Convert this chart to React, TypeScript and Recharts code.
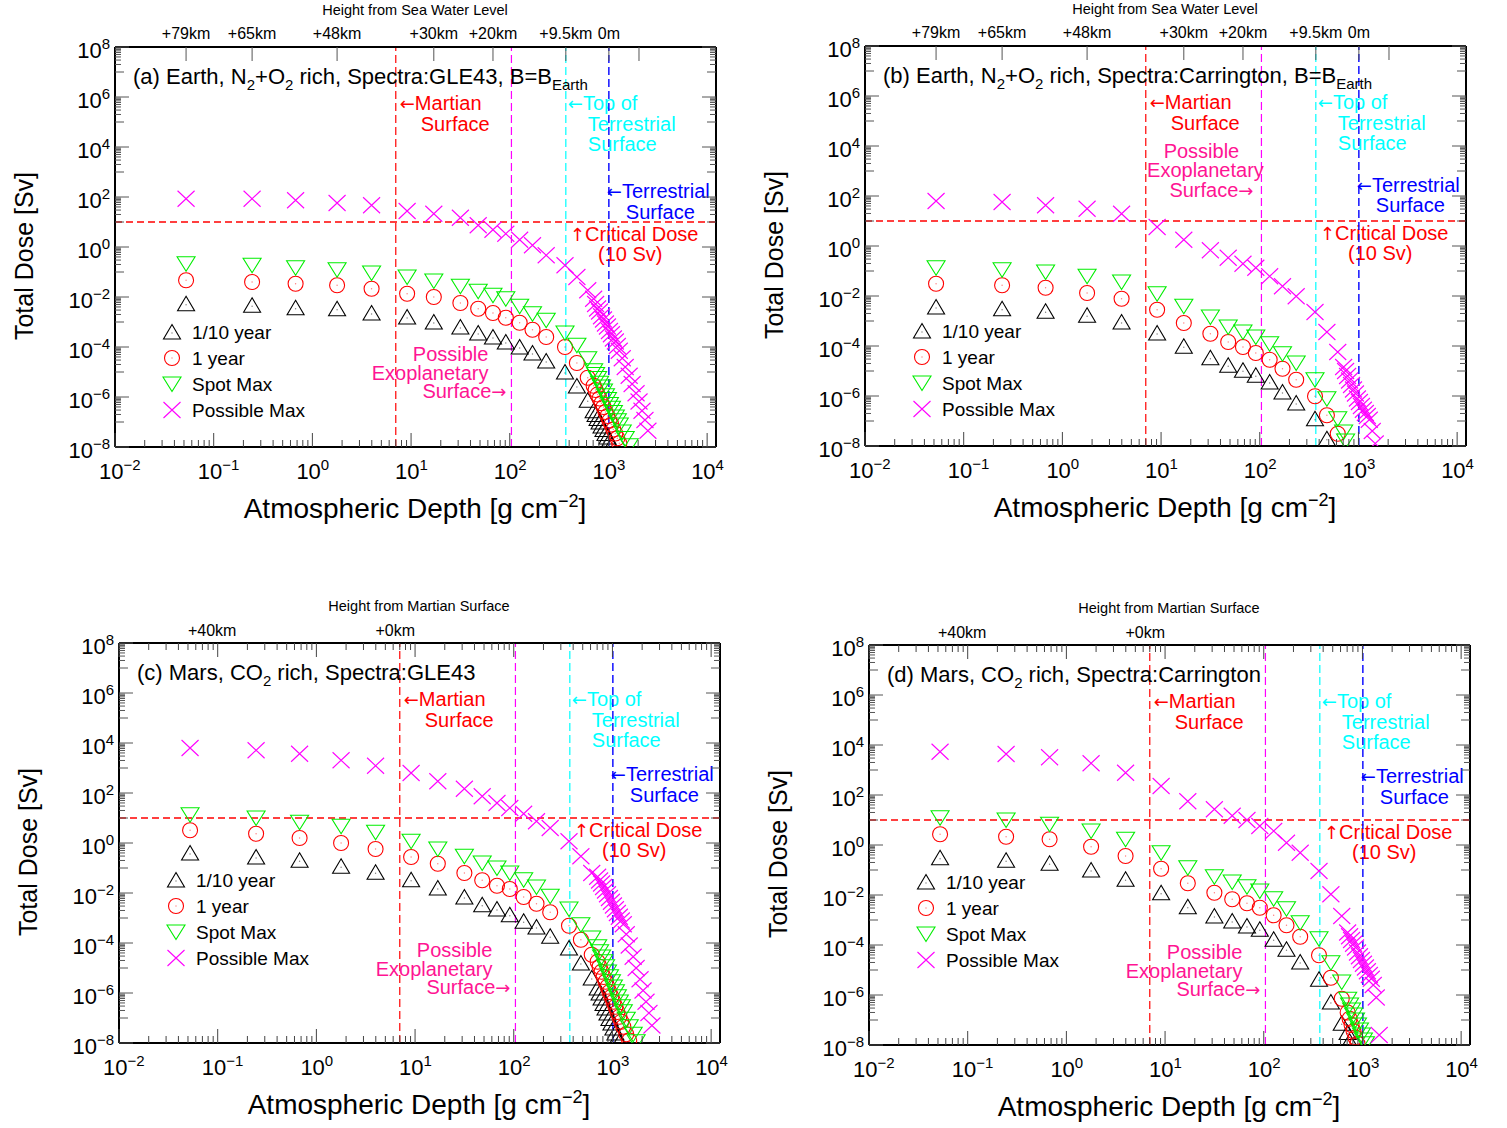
import React from 'react';
import { ScatterChart, Scatter, XAxis, YAxis, ReferenceLine, Legend } from 'recharts';

const FONT = '"Liberation Sans", Arial, Helvetica, sans-serif';
const ARROW_FONT = '"DejaVu Sans", sans-serif';

// atmospheric depth of each simulated layer [g cm^-2]
const depth = [
  0.0525, 0.245, 0.676, 1.78, 3.98, 9.12, 17.0, 31.6, 47.9, 67.6, 91.2, 126, 170, 234, 363, 479, 617,
  708, 741, 776, 813, 851, 891, 933, 977, 1023, 1072, 1122, 1175, 1230, 1288,
  1380, 1479, 1622, 1738, 1905, 2042, 2188, 2344, 2512,
];

// log10 of total dose [Sv] per layer, null where the dose falls below 1e-8 Sv
// (a) Earth atmosphere, GLE43 spectrum
const earthGleTenth = [
  -2.27, -2.33, -2.43, -2.47, -2.64, -2.8, -3.0, -3.2, -3.44, -3.6, -3.8, -4.0, -4.24, -4.56, -5.0, -5.56, -6.13,
  -6.55, -6.7, -6.86, -7.0, -7.16, -7.3, -7.46, -7.6, -7.76, -7.92, null, null, null, null,
  null, null, null, null, null, null, null, null, null,
];
const earthGleYear = [
  -1.33, -1.4, -1.47, -1.53, -1.67, -1.87, -2.0, -2.24, -2.47, -2.64, -2.83, -3.03, -3.31, -3.6, -4.0, -4.64, -5.23,
  -5.55, -5.72, -5.9, -6.06, -6.25, -6.4, -6.6, -6.76, -6.95, -7.1, -7.3, -7.46, -7.65, -7.85,
  null, null, null, null, null, null, null, null, null,
];
const earthGleSpot = [
  -0.67, -0.73, -0.83, -0.91, -1.04, -1.2, -1.36, -1.57, -1.77, -1.93, -2.07, -2.37, -2.67, -2.93, -3.44, -3.93, -4.47,
  -4.95, -5.1, -5.26, -5.45, -5.6, -5.76, -5.95, -6.1, -6.3, -6.45, -6.62, -6.8, -6.95, -7.12,
  -7.4, -7.66, -7.95, null, null, null, null, null, null,
];
const earthGleMax = [
  1.93, 1.93, 1.87, 1.76, 1.67, 1.44, 1.33, 1.17, 0.87, 0.69, 0.53, 0.29, 0.07, -0.33, -0.73, -1.2, -1.73,
  -2.07, -2.28, -2.46, -2.58, -2.77, -2.9, -3.06, -3.18, -3.36, -3.49, -3.66, -3.78, -3.96, -4.15,
  -4.45, -4.8, -5.15, -5.48, -5.85, -6.18, -6.55, -6.92, -7.35,
];

// (b) Earth atmosphere, Carrington spectrum
const earthCarTenth = [
  -2.44, -2.51, -2.61, -2.77, -3.04, -3.48, -4.01, -4.47, -4.77, -4.97, -5.17, -5.44, -5.84, -6.28, -6.91, -7.71, null,
  null, null, null, null, null, null, null, null, null, null, null, null, null, null,
  null, null, null, null, null, null, null, null, null,
];
const earthCarYear = [
  -1.51, -1.57, -1.67, -1.88, -2.11, -2.55, -3.08, -3.51, -3.84, -4.04, -4.28, -4.55, -4.91, -5.35, -6.01, -6.77, -7.51,
  null, null, null, null, null, null, null, null, null, null, null, null, null, null,
  null, null, null, null, null, null, null, null, null,
];
const earthCarSpot = [
  -0.87, -0.95, -1.04, -1.21, -1.44, -1.91, -2.41, -2.84, -3.24, -3.44, -3.64, -3.91, -4.31, -4.68, -5.35, -6.11, -6.91,
  -7.44, -7.8, null, null, null, null, null, null, null, null, null, null, null, null,
  null, null, null, null, null, null, null, null, null,
];
const earthCarMax = [
  1.8, 1.76, 1.63, 1.49, 1.29, 0.76, 0.25, -0.17, -0.47, -0.71, -0.87, -1.21, -1.61, -2.01, -2.64, -3.44, -4.24,
  -4.84, -5.0, -5.2, -5.38, -5.56, -5.74, -5.9, -6.1, -6.24, -6.4, -6.55, -6.68, -6.8, -6.95,
  -7.4, -7.9, null, null, null, null, null, null, null,
];

// (c) Mars atmosphere, GLE43 spectrum
const marsGleTenth = [
  -0.4, -0.56, -0.69, -0.93, -1.17, -1.47, -1.8, -2.16, -2.47, -2.64, -2.87, -3.13, -3.36, -3.73, -4.2, -4.8, -5.4,
  -5.8, -6.0, -6.2, -6.42, -6.6, -6.8, -7.02, -7.2, -7.4, -7.6, -7.8, -7.95, null, null,
  null, null, null, null, null, null, null, null, null,
];
const marsGleYear = [
  0.51, 0.37, 0.2, 0.0, -0.24, -0.56, -0.83, -1.2, -1.49, -1.71, -1.84, -2.16, -2.43, -2.77, -3.31, -3.87, -4.47,
  -4.75, -4.95, -5.15, -5.36, -5.55, -5.75, -5.96, -6.15, -6.35, -6.55, -6.76, -6.95, -7.15, -7.35,
  -7.65, -7.9, null, null, null, null, null, null, null,
];
const marsGleSpot = [
  1.13, 1.0, 0.83, 0.67, 0.43, 0.07, -0.24, -0.53, -0.8, -1.0, -1.2, -1.47, -1.76, -2.13, -2.64, -3.27, -3.8,
  -4.15, -4.35, -4.56, -4.75, -4.95, -5.16, -5.35, -5.55, -5.76, -5.95, -6.15, -6.36, -6.55, -6.75,
  -7.05, -7.35, -7.65, -7.95, null, null, null, null, null,
];
const marsGleMax = [
  3.8, 3.71, 3.57, 3.31, 3.09, 2.8, 2.47, 2.17, 1.87, 1.6, 1.4, 1.17, 0.87, 0.6, 0.07, -0.53, -1.2,
  -1.35, -1.5, -1.62, -1.76, -1.9, -2.05, -2.2, -2.35, -2.5, -2.65, -2.8, -2.95, -3.1, -3.25,
  -3.65, -4.1, -4.55, -5.0, -5.45, -5.9, -6.35, -6.8, -7.3,
];

// (d) Mars atmosphere, Carrington spectrum
const marsCarTenth = [
  -0.51, -0.61, -0.73, -1.0, -1.37, -1.91, -2.47, -2.84, -3.04, -3.24, -3.37, -3.77, -4.17, -4.68, -5.37, -6.28, -7.13,
  -7.5, -7.85, null, null, null, null, null, null, null, null, null, null, null, null,
  null, null, null, null, null, null, null, null, null,
];
const marsCarYear = [
  0.43, 0.33, 0.23, -0.07, -0.44, -0.95, -1.53, -1.91, -2.17, -2.33, -2.51, -2.81, -3.21, -3.67, -4.41, -5.31, -6.15,
  -6.7, -6.95, -7.2, -7.45, -7.7, -7.95, null, null, null, null, null, null, null, null,
  null, null, null, null, null, null, null, null, null,
];
const marsCarSpot = [
  1.09, 1.0, 0.83, 0.56, 0.23, -0.31, -0.91, -1.27, -1.48, -1.67, -1.84, -2.15, -2.55, -3.11, -3.75, -4.71, -5.48,
  -6.17, -6.4, -6.6, -6.8, -7.0, -7.2, -7.4, -7.6, -7.8, -7.95, null, null, null, null,
  null, null, null, null, null, null, null, null, null,
];
const marsCarMax = [
  3.73, 3.64, 3.51, 3.27, 2.89, 2.36, 1.75, 1.43, 1.17, 1.0, 0.76, 0.56, 0.09, -0.31, -1.04, -1.97, -2.84,
  -3.5, -3.65, -3.8, -3.95, -4.1, -4.3, -4.45, -4.6, -4.75, -4.9, -5.05, -5.2, -5.35, -5.6,
  -6.1, -7.6, null, null, null, null, null, null, null,
];

// axis decades and the height scale on the upper axis
const xDecades = [-2, -1, 0, 1, 2, 3, 4];
const yDecades = [-8, -7, -6, -5, -4, -3, -2, -1, 0, 1, 2, 3, 4, 5, 6, 7, 8];
const earthHeightDepths = [0.0525, 0.245, 1.78, 17, 67.6, 370, 1010, 2040];
const earthHeightLabels = ['+79km', '+65km', '+48km', '+30km', '+20km', '+9.5km', '0m', ''];
const marsHeightDepths = [0.088, 6.3];
const marsHeightLabels = ['+40km', '+0km'];

// reference levels
const criticalDose = 10;
const martianSurface = 7;
const exoplanetSurface = 104;
const terrestrialTop = 370;
const terrestrialSurface = 1010;

const X_MIN = 0.01;
const X_MAX = 12300;
const Y_MIN = 1e-8;
const Y_MAX = 1e8;

// chart geometry (plot frame in chart coordinates)
const CW = 750;
const CH = 530;
const L = 115;
const R = 716;
const T = 47;
const B = 447;

const seriesMeta = [
  { key: 'tenth', name: '1/10 year', kind: 'up' },
  { key: 'year', name: '1 year', kind: 'circle' },
  { key: 'spot', name: 'Spot Max', kind: 'down' },
  { key: 'max', name: 'Possible Max', kind: 'x' },
];

const xTicks: number[] = [];
xDecades.forEach((e) => {
  for (let k = 1; k <= 9; k++) {
    const v = k * Math.pow(10, e);
    if (v <= X_MAX) xTicks.push(v);
  }
});

const yTicks: number[] = [];
yDecades.forEach((e) => {
  yTicks.push(Math.pow(10, e));
  // minor ticks only in the decade just below each labelled power
  if ((e + 1) % 2 === 0 && e < 8) {
    for (let k = 2; k <= 9; k++) yTicks.push(k * Math.pow(10, e));
  }
});

const marsTopTicks = [...xTicks, ...marsHeightDepths];

function buildPoints(logs: (number | null)[]) {
  const out: { x: number; y: number }[] = [];
  logs.forEach((v, i) => {
    if (v !== null) out.push({ x: depth[i], y: Math.pow(10, v) });
  });
  return out;
}

const expText = (e: number) => (e < 0 ? `\u2212${-e}` : `${e}`);
const isDecade = (v: number) => {
  const lg = Math.log10(v);
  return Math.abs(lg - Math.round(lg)) < 1e-6;
};

const Arrow = ({ ch }: { ch: string }) => (
  <tspan fontFamily={ARROW_FONT} fontSize={18}>
    {ch}
  </tspan>
);

function Marker({ kind, cx, cy }: { kind: string; cx: number; cy: number }) {
  if (kind === 'up') {
    return (
      <g>
        <path d={`M${cx},${cy - 7.5}L${cx + 8.5},${cy + 7}L${cx - 8.5},${cy + 7}Z`} fill="none" stroke="#000" strokeWidth={1.1} />
        <circle cx={cx} cy={cy + 1} r={0.7} fill="#000" opacity={0.5} />
      </g>
    );
  }
  if (kind === 'down') {
    return (
      <path d={`M${cx},${cy + 7.5}L${cx + 9},${cy - 7}L${cx - 9},${cy - 7}Z`} fill="none" stroke="#00ee00" strokeWidth={1.1} />
    );
  }
  if (kind === 'circle') {
    return (
      <g>
        <circle cx={cx} cy={cy} r={7.5} fill="none" stroke="#ff0000" strokeWidth={1.1} />
        <circle cx={cx} cy={cy} r={0.7} fill="#ff0000" opacity={0.5} />
      </g>
    );
  }
  return (
    <path
      d={`M${cx - 8.5},${cy - 8}L${cx + 8.5},${cy + 8}M${cx - 8.5},${cy + 8}L${cx + 8.5},${cy - 8}`}
      stroke="#ff00ff"
      strokeWidth={1.1}
      fill="none"
    />
  );
}

function BottomTick(p: any) {
  const v = p.payload.value;
  const x = p.x;
  const major = isDecade(v);
  const e = Math.round(Math.log10(v));
  return (
    <g>
      <line x1={x} x2={x} y1={B} y2={B - (major ? 14 : 7)} stroke="#444" strokeWidth={1} />
      {major && (
        <text x={x - 16} y={B + 32} fontSize={22} fontFamily={FONT} fill="#000">
          10
          <tspan dy={-9} fontSize={15}>
            {expText(e)}
          </tspan>
        </text>
      )}
    </g>
  );
}

function EarthTopTick(p: any) {
  const v = p.payload.value;
  const x = p.x;
  const label = earthHeightLabels[earthHeightDepths.indexOf(v)] ?? '';
  return (
    <g>
      <line x1={x} x2={x} y1={T} y2={T + 14} stroke="#555" strokeWidth={1} />
      {label && (
        <text x={x} y={T - 8} textAnchor="middle" fontSize={16} fontFamily={FONT} fill="#000">
          {label}
        </text>
      )}
    </g>
  );
}

function MarsTopTick(p: any) {
  const v = p.payload.value;
  const x = p.x;
  const li = marsHeightDepths.indexOf(v);
  if (li >= 0) {
    return (
      <text x={x} y={T - 7} textAnchor="middle" fontSize={16} fontFamily={FONT} fill="#000">
        {marsHeightLabels[li]}
      </text>
    );
  }
  const major = isDecade(v);
  return <line x1={x} x2={x} y1={T} y2={T + (major ? 14 : 7)} stroke="#444" strokeWidth={1} />;
}

function LeftTick(p: any) {
  const v = p.payload.value;
  const y = p.y;
  const major = isDecade(v);
  const e = Math.round(Math.log10(v));
  const labelled = major && e % 2 === 0;
  const len = major ? (labelled ? 14 : 9) : 6;
  return (
    <g>
      <line x1={L} x2={L + len} y1={y} y2={y} stroke="#555" strokeWidth={1} />
      {labelled && (
        <text x={L - 5} y={y + 11} textAnchor="end" fontSize={22} fontFamily={FONT} fill="#000">
          10
          <tspan dy={-9} fontSize={15}>
            {expText(e)}
          </tspan>
        </text>
      )}
    </g>
  );
}

function RightTick(p: any) {
  const v = p.payload.value;
  const y = p.y;
  const major = isDecade(v);
  const e = Math.round(Math.log10(v));
  const len = major ? (e % 2 === 0 ? 14 : 9) : 6;
  return <line x1={R} x2={R - len} y1={y} y2={y} stroke="#555" strokeWidth={1} />;
}

function RichText({ parts, x, y, size, subSize }: { parts: [string, boolean][]; x: number; y: number; size: number; subSize: number }) {
  let shift = 0;
  return (
    <text x={x} y={y} fontSize={size} fontFamily={FONT} fill="#000">
      {parts.map(([t, sub], i) => {
        const target = sub ? 6 : 0;
        const dy = target - shift;
        shift = target;
        return (
          <tspan key={i} dy={dy} fontSize={sub ? subSize : size}>
            {t}
          </tspan>
        );
      })}
    </text>
  );
}

type Panel = {
  left: number;
  top: number;
  planet: 'earth' | 'mars';
  title: [string, boolean][];
  series: Record<string, (number | null)[]>;
  legendTop: number;
  blueY: [number, number];
  possibleCentered: boolean;
};

const panels: Panel[] = [
  {
    left: 0,
    top: 0,
    planet: 'earth',
    title: [['(a) Earth, N', false], ['2', true], ['+O', false], ['2', true], [' rich, Spectra:GLE43, B=B', false], ['Earth', true]],
    series: { tenth: earthGleTenth, year: earthGleYear, spot: earthGleSpot, max: earthGleMax },
    legendTop: 332,
    blueY: [198, 219],
    possibleCentered: false,
  },
  {
    left: 750,
    top: -1,
    planet: 'earth',
    title: [['(b) Earth, N', false], ['2', true], ['+O', false], ['2', true], [' rich, Spectra:Carrington, B=B', false], ['Earth', true]],
    series: { tenth: earthCarTenth, year: earthCarYear, spot: earthCarSpot, max: earthCarMax },
    legendTop: 332,
    blueY: [193, 213],
    possibleCentered: true,
  },
  {
    left: 4,
    top: 596,
    planet: 'mars',
    title: [['(c) Mars, CO', false], ['2', true], [' rich, Spectra:GLE43', false]],
    series: { tenth: marsGleTenth, year: marsGleYear, spot: marsGleSpot, max: marsGleMax },
    legendTop: 284,
    blueY: [185, 206],
    possibleCentered: false,
  },
  {
    left: 754,
    top: 598,
    planet: 'mars',
    title: [['(d) Mars, CO', false], ['2', true], [' rich, Spectra:Carrington', false]],
    series: { tenth: marsCarTenth, year: marsCarYear, spot: marsCarSpot, max: marsCarMax },
    legendTop: 284,
    blueY: [185, 206],
    possibleCentered: false,
  },
];

const frameCorners = [
  { x: X_MIN, y: Y_MIN },
  { x: X_MAX, y: Y_MAX },
];

function LegendBox() {
  return (
    <svg width={170} height={106} style={{ display: 'block' }}>
      {seriesMeta.map((s, i) => (
        <g key={s.key}>
          <Marker kind={s.kind} cx={12} cy={13 + 26 * i} />
          <text x={32} y={20 + 26 * i} fontSize={19} fontFamily={FONT} fill="#000">
            {s.name}
          </text>
        </g>
      ))}
    </svg>
  );
}

function DosePanel({ panel }: { panel: Panel }) {
  const earth = panel.planet === 'earth';
  const dash = '8 4';
  return (
    <div style={{ position: 'absolute', left: panel.left, top: panel.top, width: CW, height: CH }}>
      <ScatterChart width={CW} height={CH} margin={{ top: T - 20, right: CW - R - 10, bottom: CH - B - 40, left: L - 60 }}>
        <XAxis
          xAxisId="b"
          dataKey="x"
          type="number"
          scale="log"
          domain={[X_MIN, X_MAX]}
          allowDataOverflow
          ticks={xTicks}
          interval={0}
          tick={<BottomTick />}
          tickLine={false}
          axisLine={{ stroke: '#000', strokeWidth: 2 }}
          height={40}
        />
        <XAxis
          xAxisId="t"
          orientation="top"
          dataKey="x"
          type="number"
          scale="log"
          domain={[X_MIN, X_MAX]}
          allowDataOverflow
          ticks={earth ? earthHeightDepths : marsTopTicks}
          interval={0}
          tick={earth ? <EarthTopTick /> : <MarsTopTick />}
          tickLine={false}
          axisLine={{ stroke: '#000', strokeWidth: 2 }}
          height={20}
        />
        <YAxis
          yAxisId="l"
          dataKey="y"
          type="number"
          scale="log"
          domain={[Y_MIN, Y_MAX]}
          allowDataOverflow
          ticks={yTicks}
          interval={0}
          tick={<LeftTick />}
          tickLine={false}
          axisLine={{ stroke: '#000', strokeWidth: 2 }}
          width={60}
        />
        <YAxis
          yAxisId="r"
          orientation="right"
          dataKey="y"
          type="number"
          scale="log"
          domain={[Y_MIN, Y_MAX]}
          allowDataOverflow
          ticks={yTicks}
          interval={0}
          tick={<RightTick />}
          tickLine={false}
          axisLine={{ stroke: '#000', strokeWidth: 2 }}
          width={10}
        />

        <ReferenceLine
          xAxisId="b"
          yAxisId="l"
          y={criticalDose}
          stroke="#ff0000"
          strokeWidth={1.4}
          strokeDasharray="7 4"
          label={(p: any) => {
            const vb = p.viewBox;
            const right = vb.x + vb.width;
            return (
              <g fontFamily={FONT} fontSize={20} fill="#ff0000">
                <text x={right - 146} y={vb.y + 19}>
                  <Arrow ch={'\u2191'} />
                  Critical Dose
                </text>
                <text x={right - 118} y={vb.y + 39}>(10 Sv)</text>
              </g>
            );
          }}
        />
        <ReferenceLine
          xAxisId="b"
          yAxisId="l"
          x={martianSurface}
          stroke="#ff0000"
          strokeWidth={1.2}
          strokeDasharray={dash}
          label={(p: any) => {
            const x = p.viewBox.x;
            return (
              <g fontFamily={FONT} fontSize={20} fill="#ff0000">
                <text x={x + 4} y={110}>
                  <Arrow ch={'\u2190'} />
                  Martian
                </text>
                <text x={x + 25} y={131}>Surface</text>
              </g>
            );
          }}
        />
        <ReferenceLine
          xAxisId="b"
          yAxisId="l"
          x={exoplanetSurface}
          stroke="#ff00ff"
          strokeWidth={1.2}
          strokeDasharray={dash}
          label={(p: any) => {
            const x = p.viewBox.x;
            if (panel.possibleCentered) {
              return (
                <g fontFamily={FONT} fontSize={20} fill="#ff1493" textAnchor="middle">
                  <text x={x - 60} y={159}>Possible</text>
                  <text x={x - 56} y={178}>Exoplanetary</text>
                  <text x={x - 50} y={198}>
                    Surface
                    <Arrow ch={'\u2192'} />
                  </text>
                </g>
              );
            }
            return (
              <g fontFamily={FONT} fontSize={20} fill="#ff1493" textAnchor="end">
                <text x={x - 23} y={361}>Possible</text>
                <text x={x - 23} y={380}>Exoplanetary</text>
                <text x={x - 5} y={398}>
                  Surface
                  <Arrow ch={'\u2192'} />
                </text>
              </g>
            );
          }}
        />
        <ReferenceLine
          xAxisId="b"
          yAxisId="l"
          x={terrestrialTop}
          stroke="#00ffff"
          strokeWidth={1.2}
          strokeDasharray={dash}
          label={(p: any) => {
            const x = p.viewBox.x;
            return (
              <g fontFamily={FONT} fontSize={20} fill="#00ffff">
                <text x={x + 2} y={110}>
                  <Arrow ch={'\u2190'} />
                  Top of
                </text>
                <text x={x + 22} y={131}>Terrestrial</text>
                <text x={x + 22} y={151}>Surface</text>
              </g>
            );
          }}
        />
        <ReferenceLine
          xAxisId="b"
          yAxisId="l"
          x={terrestrialSurface}
          stroke="#0000ff"
          strokeWidth={1.4}
          strokeDasharray={dash}
          label={(p: any) => {
            const x = p.viewBox.x;
            return (
              <g fontFamily={FONT} fontSize={20} fill="#0000ff">
                <text x={x - 2} y={panel.blueY[0]}>
                  <Arrow ch={'\u2190'} />
                  Terrestrial
                </text>
                <text x={x + 17} y={panel.blueY[1]}>Surface</text>
              </g>
            );
          }}
        />

        <Scatter xAxisId="t" yAxisId="r" data={frameCorners} legendType="none" isAnimationActive={false} shape={() => <g />} />
        {seriesMeta.map((s) => (
          <Scatter
            key={s.key}
            xAxisId="b"
            yAxisId="l"
            name={s.name}
            data={buildPoints(panel.series[s.key])}
            isAnimationActive={false}
            shape={(p: any) => <Marker kind={s.kind} cx={p.cx} cy={p.cy} />}
          />
        ))}

        <Legend
          layout="horizontal"
          verticalAlign="middle"
          align="center"
          content={() => <LegendBox />}
          wrapperStyle={{ position: 'absolute', left: 160, top: panel.legendTop - 13, width: 170, height: 106, margin: 0, padding: 0 }}
        />
      </ScatterChart>

      <svg width={CW} height={CH} style={{ position: 'absolute', left: 0, top: 0, pointerEvents: 'none' }}>
        <text x={415} y={15} textAnchor="middle" fontSize={14.5} fontFamily={FONT} fill="#000">
          {earth ? 'Height from Sea Water Level' : 'Height from Martian Surface'}
        </text>
        <RichText parts={panel.title} x={133} y={84} size={22} subSize={15} />
        <text x={415} y={518} textAnchor="middle" fontSize={28} fontFamily={FONT} fill="#000">
          Atmospheric Depth [g cm
          <tspan dy={-11} fontSize={18}>
            {'\u22122'}
          </tspan>
          <tspan dy={11}>]</tspan>
        </text>
        <text
          x={0}
          y={0}
          transform="translate(33, 256) rotate(-90)"
          textAnchor="middle"
          fontSize={25}
          fontFamily={FONT}
          fill="#000"
        >
          Total Dose [Sv]
        </text>
      </svg>
    </div>
  );
}

export default function App() {
  return (
    <div style={{ position: 'absolute', left: 0, top: 0, width: 1507, height: 1128, overflow: 'hidden', background: '#fff' }}>
      {panels.map((p, i) => (
        <DosePanel key={i} panel={p} />
      ))}
    </div>
  );
}
